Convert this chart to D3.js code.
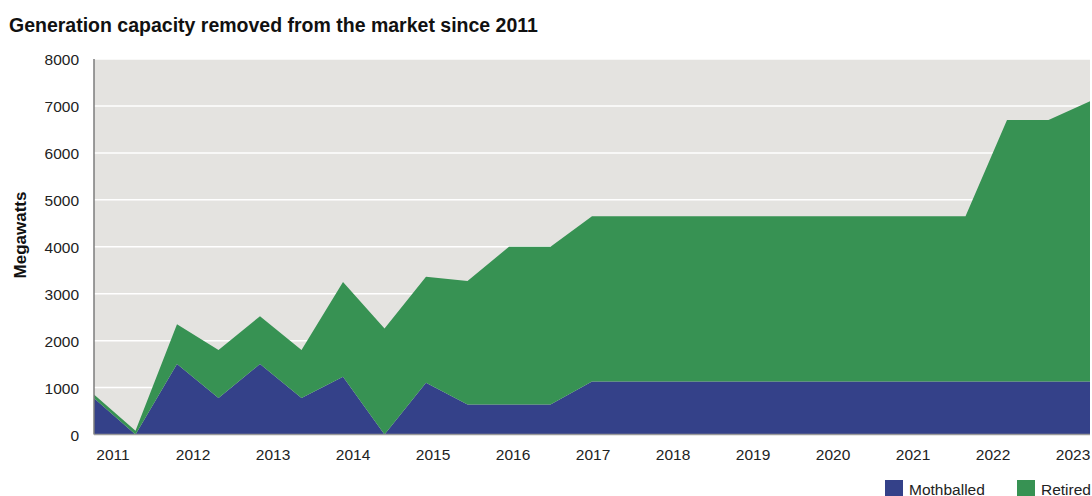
<!DOCTYPE html>
<html>
<head>
<meta charset="utf-8">
<script src="https://cdn.jsdelivr.net/npm/d3@7"></script>
<style>
  html, body { margin: 0; padding: 0; background: #ffffff; }
  svg { display: block; font-family: "Liberation Sans", Arial, Helvetica, sans-serif; }
</style>
</head>
<body>
<svg id="chart" width="1092" height="496"></svg>
<script>
// Half-year periods along the horizontal axis
const periods = [
  "2011 H1", "2011 H2", "2012 H1", "2012 H2", "2013 H1", "2013 H2",
  "2014 H1", "2014 H2", "2015 H1", "2015 H2", "2016 H1", "2016 H2",
  "2017 H1", "2017 H2", "2018 H1", "2018 H2", "2019 H1", "2019 H2",
  "2020 H1", "2020 H2", "2021 H1", "2021 H2", "2022 H1", "2022 H2",
  "2023 H1"
];

// Capacity removed, megawatts
const mothballed = [
  770, 0, 1500, 780, 1500, 780, 1230, 0, 1100, 640, 640, 640,
  1130, 1130, 1130, 1130, 1130, 1130, 1130, 1130, 1130, 1130, 1130, 1130,
  1130
];
const retired = [
  80, 80, 850, 1020, 1020, 1020, 2020, 2260, 2260, 2630, 3360, 3360,
  3520, 3520, 3520, 3520, 3520, 3520, 3520, 3520, 3520, 3520, 5570, 5570,
  5970
];

const yearLabels = ["2011", "2012", "2013", "2014", "2015", "2016", "2017",
                    "2018", "2019", "2020", "2021", "2022", "2023"];
const yTicks = [0, 1000, 2000, 3000, 4000, 5000, 6000, 7000, 8000];

const seriesKeys = ["Mothballed", "Retired"];
const seriesColors = { "Mothballed": "#344189", "Retired": "#379253" };

const rows = periods.map((p, i) => ({ period: p, Mothballed: mothballed[i], Retired: retired[i] }));

const svg = d3.select("#chart");

const plot = { left: 94, right: 1090, top: 59, bottom: 434.5 };

const x = d3.scalePoint().domain(periods).range([plot.left, plot.right]);
const y = d3.scaleLinear().domain([0, 8000]).range([plot.bottom, plot.top]);
const xYears = d3.scalePoint().domain(yearLabels).range([112.5, 1072.5]);

// Title
svg.append("text")
  .attr("x", 9).attr("y", 32)
  .attr("font-size", 19.5).attr("font-weight", "bold").attr("fill", "#111")
  .text("Generation capacity removed from the market since 2011");

// Plot background
svg.append("rect")
  .attr("x", plot.left).attr("y", plot.top)
  .attr("width", plot.right - plot.left).attr("height", plot.bottom - plot.top)
  .attr("fill", "#e4e3e0");

// Gridlines
svg.append("g")
  .selectAll("line")
  .data(yTicks.filter(d => d > 0))
  .join("line")
  .attr("x1", plot.left).attr("x2", plot.right)
  .attr("y1", d => y(d)).attr("y2", d => y(d))
  .attr("stroke", "#ffffff").attr("stroke-width", 1.5);

// Stacked areas
const stacked = d3.stack().keys(seriesKeys)(rows);
const area = d3.area()
  .x(d => x(d.data.period))
  .y0(d => y(d[0]))
  .y1(d => y(d[1]));

svg.append("g")
  .selectAll("path")
  .data(stacked)
  .join("path")
  .attr("d", area)
  .attr("fill", d => seriesColors[d.key]);

// Axis lines
svg.append("line")
  .attr("x1", plot.left).attr("x2", plot.left)
  .attr("y1", plot.top).attr("y2", plot.bottom)
  .attr("stroke", "#7d7d7d").attr("stroke-width", 1.5);
svg.append("line")
  .attr("x1", plot.left).attr("x2", plot.right)
  .attr("y1", plot.bottom).attr("y2", plot.bottom)
  .attr("stroke", "#9a9a9a").attr("stroke-width", 1.5);

// Y axis labels
const yAxis = svg.append("g")
  .attr("transform", `translate(${plot.left - 15},0)`)
  .call(d3.axisLeft(y).tickValues(yTicks).tickSize(0).tickPadding(0).tickFormat(d3.format("d")));
yAxis.select(".domain").remove();
yAxis.selectAll("text")
  .attr("font-size", 15.5).attr("fill", "#222").attr("font-family", null)
  .attr("dy", "0.36em");

// X axis labels
const xAxis = svg.append("g")
  .attr("transform", `translate(0,${plot.bottom})`)
  .call(d3.axisBottom(xYears).tickSize(0).tickPadding(0));
xAxis.select(".domain").remove();
xAxis.selectAll("text")
  .attr("font-size", 15.5).attr("fill", "#222").attr("font-family", null)
  .attr("y", 25).attr("dy", null);

// Y axis title
svg.append("text")
  .attr("transform", "translate(26,235) rotate(-90)")
  .attr("text-anchor", "middle")
  .attr("font-size", 17).attr("font-weight", "bold").attr("fill", "#111")
  .text("Megawatts");

// Legend
const legendItems = [
  { key: "Mothballed", x: 885 },
  { key: "Retired", x: 1017 }
];
const legend = svg.append("g");
legend.selectAll("rect")
  .data(legendItems)
  .join("rect")
  .attr("x", d => d.x).attr("y", 480)
  .attr("width", 18).attr("height", 18)
  .attr("fill", d => seriesColors[d.key]);
legend.selectAll("text")
  .data(legendItems)
  .join("text")
  .attr("x", d => d.x + 24).attr("y", 494.5)
  .attr("font-size", 15.5).attr("fill", "#222")
  .text(d => d.key);
</script>
</body>
</html>
